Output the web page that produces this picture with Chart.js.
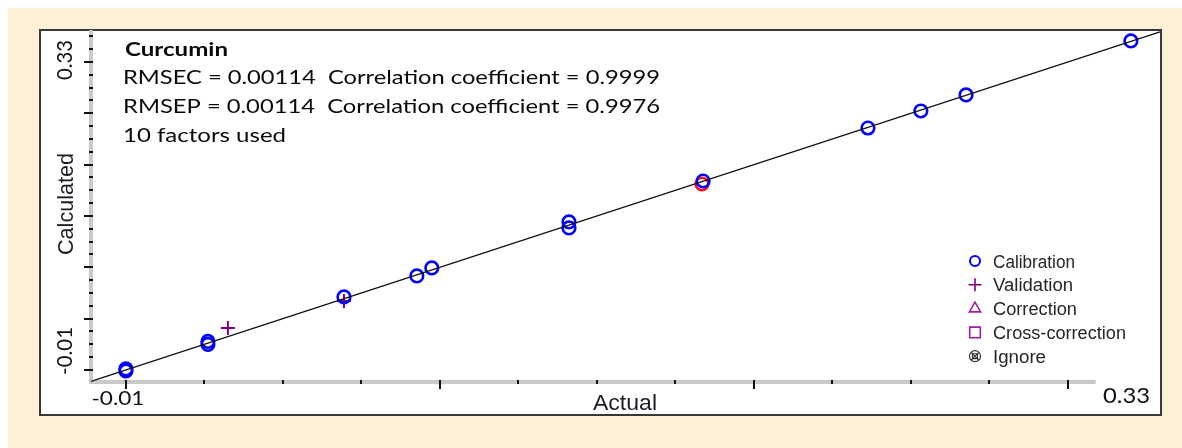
<!DOCTYPE html>
<html>
<head>
<meta charset="utf-8">
<script src="https://cdn.jsdelivr.net/npm/chart.js@4.4.1/dist/chart.umd.min.js"></script>
<style>
  html, body { margin: 0; padding: 0; background: #ffffff; }
  #wrap { width: 1182px; height: 448px; }
</style>
</head>
<body>
<div id="wrap"><canvas id="c" width="1182" height="448"></canvas></div>
<script>
// Predicted vs. actual, curcumin PLS model
const calActual    = [-0.0100, -0.0100, 0.0196, 0.0196, 0.0687, 0.0950, 0.1004, 0.1499, 0.1499, 0.1983, 0.2578, 0.2769, 0.2932, 0.3527];
const calPredicted = [-0.0111, -0.0089, 0.0215, 0.0182, 0.0706, 0.0938, 0.1026, 0.1534, 0.1468, 0.1986, 0.2571, 0.2759, 0.2936, 0.3532];
const valActual    = [0.0268, 0.0687];
const valPredicted = [0.0364, 0.0662];
const flaggedActual    = [0.1979];
const flaggedPredicted = [0.1953];

const legendLabels = ['Calibration', 'Validation', 'Correction', 'Cross-correction', 'Ignore'];
const xTickLabels = ['-0.01', '0.33'];
const yTickLabels = ['-0.01', '0.33'];
const xTitle = 'Actual';
const yTitle = 'Calculated';
const noteTitle = 'Curcumin';
const noteLines = [
  'RMSEC = 0.00114  Correlation coefficient = 0.9999',
  'RMSEP = 0.00114  Correlation coefficient = 0.9976',
  '10 factors used'
];

// axis extents and tick layout
const axisLow = -0.01, axisHigh = 0.33;
const xMin = -0.0226, xMax = 0.3632;
const yMin = -0.0233, yMax = 0.3653;
const xAxisEnd = 0.34;
const xTickValues = [];
for (let k = 0; k <= 12; k++) xTickValues.push(axisLow + k * (axisHigh - axisLow) / 12);
const yTickValues = [];
for (let k = 0; k <= 26; k++) yTickValues.push(axisLow + k * (axisHigh - axisLow) / 24);

const toPts = (xs, ys) => xs.map((v, i) => ({ x: v, y: ys[i] }));

// draws text squeezed/stretched to a given length
function fitText(ctx, text, x, y, len, font, align, rotated) {
  ctx.save();
  ctx.font = font;
  const w = ctx.measureText(text).width;
  ctx.translate(x, y);
  if (rotated) ctx.rotate(-Math.PI / 2);
  ctx.scale(len / w, 1);
  ctx.textAlign = align;
  ctx.textBaseline = 'alphabetic';
  ctx.fillText(text, 0, 0);
  ctx.restore();
}

function drawIgnoreSymbol(ctx, x, y, r) {
  ctx.save();
  ctx.strokeStyle = '#333';
  ctx.lineWidth = 1.2;
  ctx.beginPath();
  ctx.arc(x, y, r, 0, Math.PI * 2);
  ctx.stroke();
  ctx.beginPath();
  ctx.moveTo(x - r * 0.7, y - r * 0.7); ctx.lineTo(x + r * 0.7, y + r * 0.7);
  ctx.moveTo(x + r * 0.7, y - r * 0.7); ctx.lineTo(x - r * 0.7, y + r * 0.7);
  ctx.stroke();
  ctx.beginPath();
  ctx.rect(x - r * 0.45, y - r * 0.45, r * 0.9, r * 0.9);
  ctx.stroke();
  ctx.restore();
}

const framePlugin = {
  id: 'frame',
  beforeDraw(chart) {
    const ctx = chart.ctx;
    ctx.save();
    ctx.fillStyle = '#ffffff';
    ctx.fillRect(0, 0, chart.width, chart.height);
    ctx.fillStyle = '#fcf0d6';
    ctx.fillRect(8, 8, chart.width - 8, chart.height - 8);
    ctx.fillStyle = '#ffffff';
    ctx.fillRect(40, 30, 1121, 385);
    ctx.strokeStyle = '#383838';
    ctx.lineWidth = 2;
    ctx.strokeRect(40, 30, 1121, 385);
    ctx.restore();
  },
  beforeDatasetsDraw(chart) {
    const ctx = chart.ctx;
    const xs = chart.scales.x, ys = chart.scales.y;
    const ax = chart.chartArea.left, ay = chart.chartArea.bottom;
    ctx.save();
    // axis rails
    ctx.strokeStyle = '#c9c9c9';
    ctx.lineWidth = 4;
    ctx.beginPath();
    ctx.moveTo(ax, chart.chartArea.top);
    ctx.lineTo(ax, ay + 2);
    ctx.moveTo(ax - 2, ay);
    ctx.lineTo(xs.getPixelForValue(xAxisEnd), ay);
    ctx.stroke();
    // tick marks
    ctx.strokeStyle = '#111';
    ctx.lineWidth = 2;
    ctx.beginPath();
    xs.ticks.forEach((t, i) => {
      const px = Math.round(xs.getPixelForValue(t.value));
      const len = (i % 4 === 0) ? 9 : 4;
      ctx.moveTo(px, ay - 2);
      ctx.lineTo(px, ay - 2 + len);
    });
    ys.ticks.forEach((t, i) => {
      const py = Math.round(ys.getPixelForValue(t.value));
      const len = (i % 4 === 0) ? 9 : 4;
      ctx.moveTo(ax + 2, py);
      ctx.lineTo(ax + 2 - len, py);
    });
    ctx.stroke();
    ctx.restore();
  },
  afterDraw(chart) {
    const ctx = chart.ctx;
    const xs = chart.scales.x, ys = chart.scales.y;
    ctx.save();
    // tick labels
    ctx.fillStyle = '#10101a';
    fitText(ctx, xTickLabels[0], xs.getPixelForValue(axisLow) - 8, 405, 53, '19px Lato', 'center', false);
    fitText(ctx, xTickLabels[1], 1103, 403, 47, '21px Lato', 'left', false);
    fitText(ctx, yTickLabels[0], 72, ys.getPixelForValue(axisLow) - 19, 48, '22px Lato', 'center', true);
    fitText(ctx, yTickLabels[1], 72, ys.getPixelForValue(axisHigh) - 2, 40, '22px Lato', 'center', true);
    // axis titles
    ctx.fillStyle = '#1c1c28';
    fitText(ctx, xTitle, 625, 410, 64, '22px "Liberation Sans"', 'center', false);
    fitText(ctx, yTitle, 73, 204, 102, '22px "Liberation Sans"', 'center', true);
    // model summary
    ctx.fillStyle = '#0a0a0a';
    fitText(ctx, noteTitle, 125, 56, 103, 'bold 18.5px Lato', 'left', false);
    const widths = [537, 537, 163];
    noteLines.forEach((s, i) => {
      fitText(ctx, s, 123, 84 + i * 29, widths[i], '18.5px Lato', 'left', false);
    });
    // legend
    const lx = 975, tx = 993, ly0 = 261, step = 23.8;
    chart.data.datasets.filter(d => d.inLegend).forEach((d, i) => {
      const cy = ly0 + i * step;
      if (d.legendSymbol === 'ignore') {
        drawIgnoreSymbol(ctx, lx, cy, 5.5);
      } else {
        ctx.save();
        ctx.strokeStyle = d.borderColor;
        ctx.fillStyle = 'rgba(0,0,0,0)';
        ctx.lineWidth = d.legendLineWidth;
        Chart.helpers.drawPoint(ctx, { pointStyle: d.pointStyle, radius: d.legendRadius, rotation: 0, borderWidth: d.legendLineWidth }, lx, cy);
        ctx.restore();
      }
      ctx.fillStyle = '#262626';
      fitText(ctx, d.label, tx, cy + 6.5, d.legendWidth, '17.5px "Liberation Sans"', 'left', false);
    });
    ctx.restore();
  }
};

const lineData = [{ x: xMin, y: xMin }, { x: xMax, y: xMax }];

const chart = new Chart(document.getElementById('c'), {
  type: 'scatter',
  data: {
    datasets: [
      {
        type: 'line', label: 'Target', data: lineData,
        borderColor: '#111111', borderWidth: 1.2, pointRadius: 0, fill: false, clip: false
      },
      {
        label: legendLabels[0], data: toPts(calActual, calPredicted),
        pointStyle: 'circle', pointRadius: 6.3, pointBorderWidth: 2.6,
        borderColor: '#0000ff', pointBorderColor: '#0000ff', backgroundColor: 'rgba(0,0,0,0)',
        inLegend: true, legendRadius: 5, legendLineWidth: 2, legendWidth: 82, clip: false
      },
      {
        label: 'Flagged', data: toPts(flaggedActual, flaggedPredicted),
        pointStyle: 'circle', pointRadius: 6.3, pointBorderWidth: 2.6,
        borderColor: '#ff1020', pointBorderColor: '#ff1020', backgroundColor: 'rgba(0,0,0,0)', clip: false
      },
      {
        label: legendLabels[1], data: toPts(valActual, valPredicted),
        pointStyle: 'cross', pointRadius: 7, pointBorderWidth: 2,
        borderColor: '#800080', pointBorderColor: '#800080', backgroundColor: 'rgba(0,0,0,0)',
        inLegend: true, legendRadius: 6.5, legendLineWidth: 1.6, legendWidth: 80, clip: false
      },
      {
        label: legendLabels[2], data: [],
        pointStyle: 'triangle', borderColor: '#a01ea0',
        inLegend: true, legendRadius: 6.5, legendLineWidth: 1.6, legendWidth: 84
      },
      {
        label: legendLabels[3], data: [],
        pointStyle: 'rect', borderColor: '#a01ea0',
        inLegend: true, legendRadius: 7.5, legendLineWidth: 1.6, legendWidth: 133
      },
      {
        label: legendLabels[4], data: [],
        pointStyle: 'circle', borderColor: '#333333',
        inLegend: true, legendSymbol: 'ignore', legendWidth: 53
      }
    ]
  },
  options: {
    responsive: false,
    animation: false,
    devicePixelRatio: 1,
    layout: { padding: { left: 0, top: 30, right: 22, bottom: 0 } },
    plugins: { legend: { display: false }, tooltip: { enabled: false } },
    scales: {
      x: {
        type: 'linear', min: xMin, max: xMax,
        grid: { display: false }, border: { display: false },
        ticks: { display: false },
        afterBuildTicks: (s) => { s.ticks = xTickValues.map(v => ({ value: v })); },
        afterFit: (s) => { s.height = 66; }
      },
      y: {
        type: 'linear', min: yMin, max: yMax,
        grid: { display: false }, border: { display: false },
        ticks: { display: false },
        afterBuildTicks: (s) => { s.ticks = yTickValues.map(v => ({ value: v })); },
        afterFit: (s) => { s.width = 91; }
      }
    }
  },
  plugins: [framePlugin]
});
</script>
</body>
</html>
